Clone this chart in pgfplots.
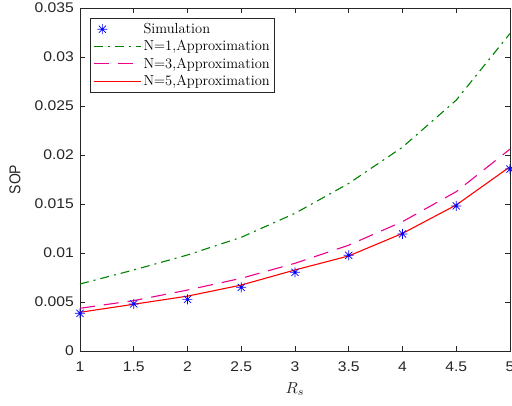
\documentclass[border=0pt]{standalone}
\usepackage{pgfplots}
\pgfplotsset{compat=1.18}
\usepackage{fontspec}
\newfontfamily\arial{Liberation Sans}
\definecolor{axgray}{rgb}{0.15,0.15,0.15}
\definecolor{mgreen}{rgb}{0,0.5,0}

% eight-armed asterisk (plus and cross overlaid)
\pgfdeclareplotmark{mstar}{%
  \pgfpathmoveto{\pgfqpoint{-\pgfplotmarksize}{0pt}}%
  \pgfpathlineto{\pgfqpoint{\pgfplotmarksize}{0pt}}%
  \pgfpathmoveto{\pgfqpoint{0pt}{-\pgfplotmarksize}}%
  \pgfpathlineto{\pgfqpoint{0pt}{\pgfplotmarksize}}%
  \pgfpathmoveto{\pgfqpoint{-0.707\pgfplotmarksize}{-0.707\pgfplotmarksize}}%
  \pgfpathlineto{\pgfqpoint{0.707\pgfplotmarksize}{0.707\pgfplotmarksize}}%
  \pgfpathmoveto{\pgfqpoint{-0.707\pgfplotmarksize}{0.707\pgfplotmarksize}}%
  \pgfpathlineto{\pgfqpoint{0.707\pgfplotmarksize}{-0.707\pgfplotmarksize}}%
  \pgfusepathqstroke}

\begin{document}
\begin{tikzpicture}
\begin{axis}[
  scale only axis,
  width=430pt, height=343pt,
  xmin=1, xmax=5, ymin=0, ymax=0.035,
  xtick={1,1.5,2,2.5,3,3.5,4,4.5,5},
  ytick={0,0.005,0.01,0.015,0.02,0.025,0.03,0.035},
  scaled y ticks=false,
  yticklabel style={/pgf/number format/fixed, /pgf/number format/precision=3, xshift=-2pt},
  xticklabel style={yshift=-7pt},
  /pgf/number format/assume math mode=true,
  tick align=inside,
  major tick length=5pt,
  axis line style={axgray, line width=0.7pt},
  every tick/.style={axgray, line width=0.7pt},
  ticklabel style={font=\arial\fontsize{14}{16}\selectfont, text=axgray, xscale=1.12},
  xlabel={$R_s$},
  ylabel={SOP},
  every axis x label/.style={at={(axis description cs:0.5,-0.111)}, anchor=center,
    text=axgray, scale=1.6},
  every axis y label/.style={at={(axis description cs:-0.151,0.5)}, anchor=center,
    rotate=90, font=\arial\fontsize{14}{16}\selectfont, text=axgray, yscale=1.12},
  legend style={at={(axis description cs:0,1)}, xshift=10pt, yshift=-10pt,
    anchor=north west, draw=axgray, line width=0.6pt,
    font=\fontsize{14.5}{17}\selectfont, row sep=1.5pt, inner xsep=3pt, inner ysep=3pt},
  legend cell align=left,
]
% simulated outage probability
\addplot[only marks, mark=mstar, mark size=5pt, blue, line width=0.7pt]
  coordinates {(1,0.00385)(1.5,0.0048)(2,0.00527)(2.5,0.0065)(3,0.00803)
               (3.5,0.00977)(4,0.01194)(4.5,0.0148)(5,0.01857)};
\addlegendentry{Simulation}
% approximations for N = 1, 3, 5 (legend samples stretched to full length)
\addplot[mgreen, line width=1.1pt, dash pattern=on 9pt off 5pt on 2pt off 5pt,
  legend image post style={xscale=2.76}]
  coordinates {(1,0.00684)(1.5,0.00827)(2,0.0098)(2.5,0.0116)(3,0.01405)
               (3.5,0.0171)(4,0.0208)(4.5,0.0256)(5,0.0324)};
\addlegendentry{N=1,Approximation}
\addplot[magenta, line width=1.1pt, dash pattern=on 15pt off 9pt,
  legend image post style={xscale=2.76}]
  coordinates {(1,0.00436)(1.5,0.00514)(2,0.00622)(2.5,0.00742)(3,0.00895)
               (3.5,0.0108)(4,0.0132)(4.5,0.01626)(5,0.0206)};
\addlegendentry{N=3,Approximation}
\addplot[red, line width=1.1pt, legend image post style={xscale=2.76}]
  coordinates {(1,0.00395)(1.5,0.00477)(2,0.0056)(2.5,0.00673)(3,0.00827)
               (3.5,0.0097)(4,0.0120)(4.5,0.0149)(5,0.0188)};
\addlegendentry{N=5,Approximation}
\end{axis}
\pgfresetboundingbox
\useasboundingbox ([shift={(-80pt,-54pt)}]current axis.south west)
  rectangle ([shift={(2pt,8pt)}]current axis.north east);
\end{tikzpicture}
\end{document}
